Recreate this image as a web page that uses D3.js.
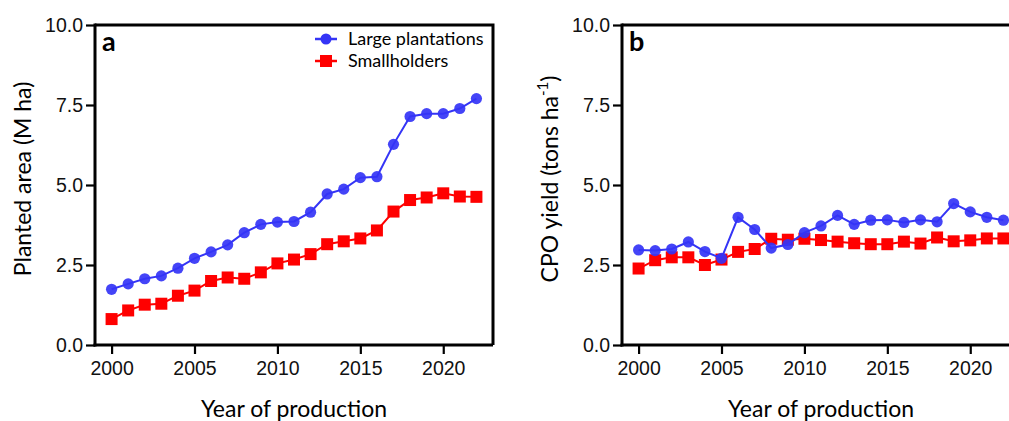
<!DOCTYPE html>
<html>
<head>
<meta charset="utf-8">
<script src="https://cdn.jsdelivr.net/npm/d3@7"></script>
<style>
  body { margin: 0; background: #fff; }
  svg { display: block; font-family: Lato, "Open Sans", sans-serif; }
</style>
</head>
<body>
<svg id="chart" width="1009" height="421"></svg>
<script>
// values
let years = d3.range(2000, 2023)
let areaLarge = [1.74, 1.91, 2.07, 2.16, 2.40, 2.71, 2.91, 3.13, 3.51, 3.77, 3.84, 3.86, 4.15,
    4.72, 4.87, 5.23, 5.26, 6.27, 7.14, 7.23, 7.23, 7.39, 7.70]
let areaSmall = [0.81, 1.08, 1.26, 1.29, 1.54, 1.70, 2.00, 2.11, 2.07, 2.27, 2.55, 2.67, 2.84,
    3.15, 3.24, 3.33, 3.58, 4.17, 4.53, 4.61, 4.74, 4.64, 4.63]
let yieldLarge = [2.97, 2.95, 3.00, 3.22, 2.92, 2.71, 3.99, 3.61, 3.03, 3.14, 3.51, 3.72, 4.05,
    3.77, 3.90, 3.91, 3.83, 3.91, 3.85, 4.42, 4.16, 3.99, 3.90]
let yieldSmall = [2.39, 2.65, 2.74, 2.74, 2.50, 2.67, 2.91, 3.00, 3.32, 3.29, 3.32, 3.28, 3.23,
    3.18, 3.15, 3.15, 3.23, 3.17, 3.36, 3.24, 3.27, 3.33, 3.33]
let xTicks = [2000, 2005, 2010, 2015, 2020]
let yTicks = [0, 2.5, 5, 7.5, 10]
let seriesNames = ['Large plantations', 'Smallholders']

let blue = '#3434f6'
let red = '#ff0000'
let plotTop = 25, plotBottom = 345, plotW = 398

let svg = d3.select('#chart')

function panel(left, letter, large, small, ylabel, showLegend, boxed) {
    let xscale = d3.scaleLinear().domain([1999, 2023]).range([left, left + plotW])
    let yscale = d3.scaleLinear().domain([0, 10]).range([plotBottom, plotTop])
    let g = svg.append('g')

    // y axis
    let ya = g.append('g').attr('transform', `translate(${left},0)`)
        .call(d3.axisLeft(yscale).tickValues(yTicks).tickFormat(d3.format('.1f')).tickSizeInner(9).tickSizeOuter(0).tickPadding(3))
    // x axis
    let xa = g.append('g').attr('transform', `translate(0,${plotBottom})`)
        .call(d3.axisBottom(xscale).tickValues(xTicks).tickFormat(d3.format('d')).tickSizeInner(9).tickSizeOuter(0).tickPadding(7))
    ;[ya, xa].forEach(a => {
        a.select('.domain').attr('stroke-width', 3)
        a.selectAll('.tick line').attr('stroke-width', 2.2)
        a.selectAll('text').style('font-size', '19.5px').attr('fill', '#111')
    })
    ya.select('.domain').attr('d', `M0,${plotTop - 1.5}V${plotBottom + 1.5}`)
    xa.select('.domain').attr('d', `M${left - 1.5},0H${left + plotW}`)

    // top (and right) frame
    g.append('path')
        .attr('d', boxed ? `M${left},${plotTop}H${left + plotW}V${plotBottom}` : `M${left},${plotTop}H${left + plotW}`)
        .attr('fill', 'none').attr('stroke', '#000').attr('stroke-width', 3)

    // series lines
    let line = d3.line().x((d, i) => xscale(years[i])).y(d => yscale(d))
    g.append('path').attr('d', line(small)).attr('fill', 'none').attr('stroke', red).attr('stroke-width', 2)
    g.selectAll('.sq').data(small).join('rect')
        .attr('x', (d, i) => xscale(years[i]) - 6).attr('y', d => yscale(d) - 6)
        .attr('width', 12).attr('height', 12).attr('fill', red)
    g.append('path').attr('d', line(large)).attr('fill', 'none').attr('stroke', blue).attr('stroke-width', 2)
    g.selectAll('.dot').data(large).join('circle')
        .attr('cx', (d, i) => xscale(years[i])).attr('cy', d => yscale(d))
        .attr('r', 5.6).attr('fill', blue).attr('fill-opacity', 0.92)

    // panel letter
    g.append('text').attr('x', left + 7).attr('y', plotTop + 26).text(letter)
        .style('font-size', '27px').style('font-weight', 'bold')

    // axis titles
    g.append('text').attr('x', left + plotW / 2).attr('y', 417).attr('text-anchor', 'middle')
        .style('font-size', '23px').text('Year of production')
    let yt = g.append('text').attr('transform', `translate(${left - 64},${(plotTop + plotBottom) / 2 - 6}) rotate(-90)`)
        .attr('text-anchor', 'middle').style('font-size', '23px')
    ylabel(yt)

    if (showLegend) {
        let lg = g.append('g')
        let items = [{ name: seriesNames[0], c: blue, shape: 'circle' }, { name: seriesNames[1], c: red, shape: 'rect' }]
        items.forEach((it, i) => {
            let y = 39 + i * 22
            lg.append('line').attr('x1', 315).attr('x2', 337).attr('y1', y).attr('y2', y)
                .attr('stroke', it.c).attr('stroke-width', 2.5)
            if (it.shape == 'circle') {
                lg.append('circle').attr('cx', 326).attr('cy', y).attr('r', 5.5).attr('fill', it.c)
            } else {
                lg.append('rect').attr('x', 320).attr('y', y - 6).attr('width', 12).attr('height', 12).attr('fill', it.c)
            }
            lg.append('text').attr('x', 348).attr('y', y + 6).style('font-size', '18px').text(it.name)
        })
    }
}

panel(95, 'a', areaLarge, areaSmall, t => t.text('Planted area (M ha)'), true, true)
panel(622, 'b', yieldLarge, yieldSmall, t => {
    t.append('tspan').text('CPO yield (tons ha')
    t.append('tspan').attr('dy', -10).style('font-size', '15px').text('-1')
    t.append('tspan').attr('dy', 10).text(')')
}, false, true)
</script>
</body>
</html>
